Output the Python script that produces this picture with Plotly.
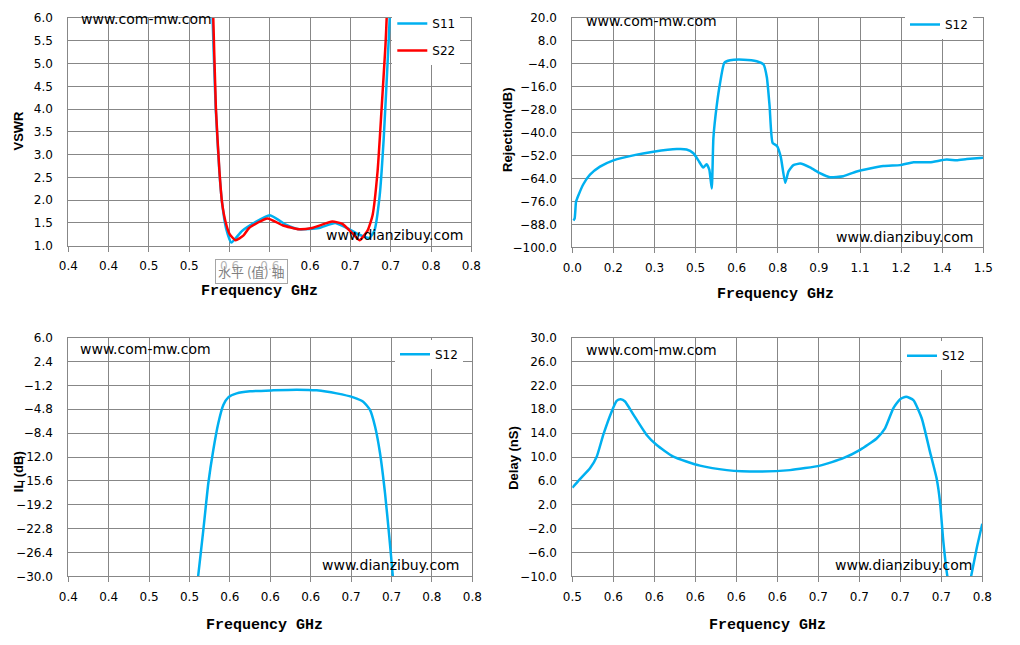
import plotly.graph_objects as go

# the page keeps the browser's 8px body margin, so the figure is 16px smaller
# than the 1020x645 window and every position below is given in window pixels
OFF = 8
W, H = 1020 - 2 * OFF, 645 - 2 * OFF
BLUE = "#00B0F0"
RED = "#FF0000"
GRID = "#878787"

# ---- VSWR panel (frequency GHz, VSWR) ----
vswr_s11_freq = [0.540, 0.5432, 0.5463, 0.5499, 0.5526, 0.5565, 0.5618, 0.5727, 0.600, 0.6159,
                 0.629, 0.649, 0.665, 0.679, 0.689, 0.6988, 0.7038, 0.709, 0.713, 0.717, 0.719, 0.721]
vswr_s11 = [8.5, 6.0, 4.02, 2.64, 1.95, 1.39, 1.07, 1.33, 1.67, 1.46,
            1.36, 1.39, 1.50, 1.36, 1.24, 1.17, 1.33, 2.09, 3.33, 5.06, 6.0, 8.0]
vswr_s22_freq = [0.541, 0.5439, 0.5465, 0.550, 0.5526, 0.556, 0.560, 0.566, 0.5737, 0.5795, 0.5977,
                 0.6126, 0.629, 0.642, 0.662, 0.672, 0.682, 0.689, 0.697, 0.702, 0.707, 0.711,
                 0.7148, 0.716, 0.718]
vswr_s22 = [8.0, 6.0, 4.02, 2.64, 1.95, 1.53, 1.26, 1.12, 1.22, 1.39, 1.60,
            1.45, 1.36, 1.39, 1.53, 1.48, 1.27, 1.12, 1.33, 1.67, 2.64, 4.02,
            5.4, 6.0, 8.0]

# ---- Rejection panel (frequency GHz, dB) ----
rej_freq = [0.0038, 0.0087, 0.0136, 0.022, 0.0403, 0.0646, 0.101, 0.150, 0.235, 0.296, 0.381,
            0.417, 0.442, 0.460, 0.478, 0.490, 0.500, 0.509, 0.515, 0.527, 0.539, 0.555, 0.576,
            0.625, 0.673, 0.698, 0.710, 0.720, 0.731, 0.747, 0.761, 0.777, 0.789, 0.807, 0.832,
            0.8675, 0.9036, 0.940, 0.989, 1.038, 1.135, 1.196, 1.245, 1.305, 1.366, 1.403, 1.44, 1.50]
rej_s12 = [-86.0, -84.8, -76.2, -72.9, -67.0, -62.0, -57.8, -54.5, -51.5, -50.0, -48.6,
           -48.8, -50.8, -54.5, -58.3, -56.5, -59.4, -69.2, -42.7, -26.0, -14.3, -3.4, -2.1,
           -1.8, -2.6, -4.3, -11.0, -26.0, -45.3, -47.0, -52.8, -66.2, -60.3, -57.0, -56.2,
           -58.2, -61.2, -63.3, -62.8, -60.3, -57.5, -57.0, -55.5, -55.5, -54.1, -54.4, -53.8, -53.1]

# ---- IL panel (frequency GHz, dB) ----
il_freq = [0.524, 0.5287, 0.5337, 0.5386, 0.5436, 0.5485, 0.5535, 0.5584, 0.5667, 0.5799,
           0.603, 0.6261, 0.6459, 0.6657, 0.6822, 0.692, 0.6987, 0.7037, 0.7086, 0.7136,
           0.7178, 0.7212, 0.7245]
il_s12 = [-36.0, -29.8, -23.0, -16.0, -10.9, -6.9, -4.15, -3.0, -2.4, -2.09,
          -1.94, -1.84, -1.94, -2.4, -3.0, -3.65, -4.9, -7.4, -11.4, -17.5,
          -24.0, -29.8, -36.0]

# ---- Delay panel (frequency GHz, ns) ----
delay_freq = [0.540, 0.5441, 0.5495, 0.5531, 0.5566, 0.5611, 0.5638, 0.566, 0.5683, 0.5727,
              0.5799, 0.5853, 0.5942, 0.6085, 0.6229, 0.6398, 0.6568, 0.6729, 0.6854, 0.6944,
              0.7033, 0.7078, 0.7123, 0.7159, 0.7191, 0.723, 0.7275, 0.7319, 0.7355, 0.7373,
              0.7391, 0.7413, 0.748, 0.754, 0.757, 0.760]
delay_s12 = [4.85, 6.3, 8.1, 10.05, 13.7, 17.6, 19.4, 19.67, 19.3, 17.15,
             13.7, 12.0, 10.05, 8.55, 7.8, 7.55, 7.8, 8.55, 9.8, 11.2,
             13.1, 14.8, 18.2, 19.7, 20.1, 19.55, 16.5, 10.9, 6.4, 2.5,
             -4.2, -10.07, -18.0, -10.0, -5.3, -1.2]

# tick labels (Excel "0.0" formatting of the category positions)
tl_ticks = [0.40, 0.44, 0.48, 0.52, 0.56, 0.60, 0.64, 0.68, 0.72, 0.76, 0.80]
tl_text = ["0.4", "0.4", "0.5", "0.5", "0.6", "0.6", "0.6", "0.7", "0.7", "0.8", "0.8"]
rej_ticks = [0.0, 0.15, 0.30, 0.45, 0.60, 0.75, 0.90, 1.05, 1.20, 1.35, 1.50]
rej_text = ["0.0", "0.2", "0.3", "0.5", "0.6", "0.8", "0.9", "1.1", "1.2", "1.4", "1.5"]
delay_ticks = [0.540, 0.562, 0.584, 0.606, 0.628, 0.650, 0.672, 0.694, 0.716, 0.738, 0.760]
delay_text = ["0.5", "0.6", "0.6", "0.6", "0.6", "0.6", "0.7", "0.7", "0.7", "0.7", "0.8"]


def px(x):
    return (x - OFF) / W


def py(y):
    return 1 - (y - OFF) / H


# plot area boxes in window pixels: (left, right, top, bottom)
boxes = [(68.3, 471.3, 18.0, 245.7), (572.3, 983.3, 18.0, 247.3),
         (68.3, 472.3, 337.7, 576.3), (572.3, 982.3, 337.7, 576.3)]

fig = go.Figure()

line_style = dict(width=2.5, shape="spline", smoothing=0.5)
fig.add_trace(go.Scatter(x=vswr_s11_freq, y=vswr_s11, name="S11", mode="lines",
                         line=dict(color=BLUE, **line_style), xaxis="x", yaxis="y",
                         legend="legend", legendgroup="a"))
fig.add_trace(go.Scatter(x=vswr_s22_freq, y=vswr_s22, name="S22", mode="lines",
                         line=dict(color=RED, **line_style), xaxis="x", yaxis="y",
                         legend="legend", legendgroup="b"))
fig.add_trace(go.Scatter(x=rej_freq, y=rej_s12, name="S12", mode="lines",
                         line=dict(color=BLUE, **line_style), xaxis="x2", yaxis="y2",
                         legend="legend2"))
fig.add_trace(go.Scatter(x=il_freq, y=il_s12, name="S12", mode="lines",
                         line=dict(color=BLUE, **line_style), xaxis="x3", yaxis="y3",
                         legend="legend3"))
fig.add_trace(go.Scatter(x=delay_freq, y=delay_s12, name="S12", mode="lines",
                         line=dict(color=BLUE, **line_style), xaxis="x4", yaxis="y4",
                         legend="legend4"))

tick_font = dict(family="DejaVu Sans", size=12, color="black")
xcfg = [(tl_ticks, tl_text, [0.40, 0.80]), (rej_ticks, rej_text, [0.0, 1.5]),
        (tl_ticks, tl_text, [0.40, 0.80]), (delay_ticks, delay_text, [0.54, 0.76])]
ycfg = [(1.0, 0.5, [1.0, 6.0]), (-100.0, 12.0, [-100.0, 20.0]),
        (-30.0, 3.6, [-30.0, 6.0]), (-10.0, 4.0, [-10.0, 30.0])]

layout = {}
for i, (box, xc, yc) in enumerate(zip(boxes, xcfg, ycfg)):
    sfx = "" if i == 0 else str(i + 1)
    left, right, top, bottom = box
    layout["xaxis" + sfx] = dict(
        domain=[px(left), px(right)], range=xc[2], anchor="y" + sfx,
        tickvals=xc[0], ticktext=xc[1], tickfont=tick_font,
        showgrid=True, gridcolor=GRID, gridwidth=1, zeroline=False,
        showline=True, linecolor=GRID, linewidth=1, mirror=True,
        ticks="outside", ticklen=5, tickcolor=GRID, ticklabelstandoff=4,
    )
    y0, dy, yr = yc
    layout["yaxis" + sfx] = dict(
        domain=[py(bottom), py(top)], range=yr, anchor="x" + sfx,
        tick0=y0, dtick=dy, tickformat=".1f", tickfont=tick_font,
        showgrid=True, gridcolor=GRID, gridwidth=1, zeroline=False,
        showline=True, linecolor=GRID, linewidth=1, mirror=True,
        ticks="", ticklabelstandoff=12,
    )

legend_base = dict(xanchor="left", yanchor="top", bgcolor="white", borderwidth=0,
                   font=dict(family="DejaVu Sans", size=12, color="black"))
layout["legend"] = dict(x=px(392.3), y=py(9.0), tracegroupgap=8, **legend_base)
layout["legend2"] = dict(x=px(905), y=py(10.0), **legend_base)
layout["legend3"] = dict(x=px(395), y=py(339.8), **legend_base)
layout["legend4"] = dict(x=px(902), y=py(341.2), **legend_base)

annotations = []
wm_font = dict(family="DejaVu Sans", size=14, color="black")
for x, y in [(79, 19.5), (584, 21), (77.5, 349), (584, 350)]:
    annotations.append(dict(text="www.com-mw.com", x=px(x), y=py(y), xref="paper", yref="paper",
                            xanchor="left", yanchor="middle", showarrow=False, font=wm_font))
for x, y in [(465, 235), (975, 236.7), (461, 565), (974, 565)]:
    annotations.append(dict(text="www.dianzibuy.com", x=px(x), y=py(y), xref="paper", yref="paper",
                            xanchor="right", yanchor="middle", showarrow=False, font=wm_font))

title_font = dict(family="Liberation Mono", size=15, color="black")
for x, y in [(259.7, 291.7), (775, 294), (264, 625), (767.5, 625)]:
    annotations.append(dict(text="<b>Frequency GHz</b>", x=px(x), y=py(y), xref="paper", yref="paper",
                            xanchor="center", yanchor="middle", showarrow=False, font=title_font))

ytitle_font = dict(family="Liberation Sans", size=13, color="black")
for text, x, y in [("VSWR", 18.5, 131), ("Rejection(dB)", 508, 130),
                   ("IL (dB)", 18.5, 471.7), ("Delay (nS)", 514, 457.8)]:
    annotations.append(dict(text="<b>" + text + "</b>", x=px(x), y=py(y), xref="paper", yref="paper",
                            xanchor="center", yanchor="middle", textangle=-90, showarrow=False,
                            font=ytitle_font))

# Excel tooltip left over in the screenshot
annotations.append(dict(text="水平 (值) 轴", x=px(251), y=py(271.7), xref="paper", yref="paper",
                        xanchor="center", yanchor="middle", showarrow=False,
                        font=dict(family="Noto Sans CJK SC", size=13, color="#7f7f7f"),
                        bgcolor="rgba(255,255,255,0.7)", bordercolor="#a6a6a6", borderwidth=1,
                        borderpad=2))

fig.update_layout(
    width=W, height=H, margin=dict(l=0, r=0, t=0, b=0, autoexpand=False),
    paper_bgcolor="white", plot_bgcolor="white",
    annotations=annotations, showlegend=True, **layout,
)

fig.write_html("out.html", config={"displayModeBar": False})
